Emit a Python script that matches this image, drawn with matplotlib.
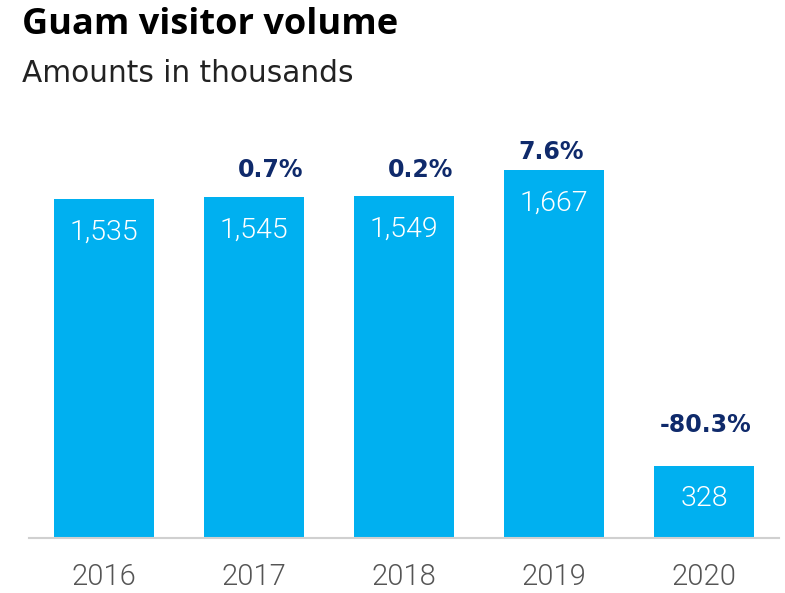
import matplotlib.pyplot as plt

# Data
years = ["2016", "2017", "2018", "2019", "2020"]
visitors = [1535, 1545, 1549, 1667, 328]
changes = ["", "0.7%", "0.2%", "7.6%", "-80.3%"]

# label nudges (points) for the growth labels, as placed in the original
chg_dx = [0, 12, 12, -2, 1]
chg_dy = [19, 19, 19, 13, 29]

bar_color = "#00b0f0"
navy = "#0f2a6b"

fig = plt.figure(figsize=(7.85, 5.93), dpi=100)
ax = fig.add_axes([29 / 785, 55 / 593, 750 / 785, 428 / 593])

x = range(len(years))
bars = ax.bar(x, visitors, width=0.667, color=bar_color)

ax.set_xlim(-0.5, len(years) - 0.5)
ax.set_ylim(0, 1938)

for i, (b, v) in enumerate(zip(bars, visitors)):
    ax.annotate(f"{v:,}", (b.get_x() + b.get_width() / 2, v),
                xytext=(0, -24), textcoords="offset points",
                ha="center", va="center", color="white",
                fontsize=20.5, family="Roboto", weight=300)
    if changes[i]:
        ax.annotate(changes[i], (b.get_x() + b.get_width() / 2, v),
                    xytext=(chg_dx[i], chg_dy[i]), textcoords="offset points",
                    ha="center", va="center", color=navy,
                    fontsize=17, family="DejaVu Sans", weight="bold")

ax.set_xticks(list(x))
ax.set_xticklabels(years, fontsize=21, family="Roboto", weight=300, color="#555555")
ax.tick_params(axis="x", length=0, pad=18)
ax.set_yticks([])
for s in ["top", "right", "left"]:
    ax.spines[s].set_visible(False)
ax.spines["bottom"].set_color("#d0d0d0")
ax.spines["bottom"].set_linewidth(1.5)

fig.text(22 / 785, 1 - 25 / 593, "Guam visitor volume", fontsize=26, family="Open Sans",
         weight="bold", color="black", va="center", ha="left")
fig.text(22 / 785, 1 - 73 / 593, "Amounts in thousands", fontsize=21.3, family="DejaVu Sans",
         weight="normal", color="#222222", va="center", ha="left")

fig.savefig("out.png", dpi=100)
